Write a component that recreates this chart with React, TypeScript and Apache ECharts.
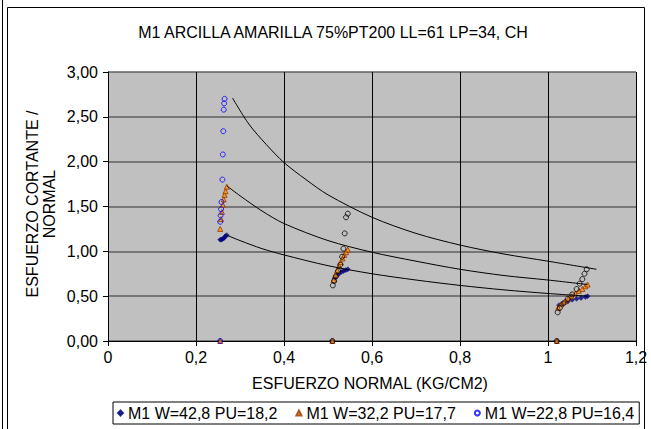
import React, { useEffect, useRef } from "react";
import * as echarts from "echarts";

const TITLE = "M1 ARCILLA AMARILLA 75%PT200 LL=61 LP=34, CH";
const X_NAME = "ESFUERZO NORMAL (KG/CM2)";
const Y_NAME = "ESFUERZO CORTANTE /\nNORMAL";
const SERIES_NAMES = ["M1 W=42,8 PU=18,2", "M1 W=32,2 PU=17,7", "M1 W=22,8 PU=16,4"];

// M1 W=42,8 PU=18,2 (diamonds)
const s1Points: [number, number][] = [
  [0.255, 0], [0.255, 1.13], [0.258, 1.13], [0.261, 1.14], [0.264, 1.15], [0.267, 1.17], [0.27, 1.18],
  [0.51, 0], [0.515, 0.70], [0.52, 0.73], [0.525, 0.75], [0.53, 0.77], [0.535, 0.78], [0.54, 0.79], [0.545, 0.80],
  [1.02, 0], [1.025, 0.40], [1.035, 0.42], [1.045, 0.44], [1.055, 0.46], [1.065, 0.47], [1.075, 0.48], [1.085, 0.49], [1.09, 0.50],
];
// M1 W=32,2 PU=17,7 (triangles)
const s2Points: [number, number][] = [
  [0.255, 0], [0.255, 1.25], [0.257, 1.36], [0.259, 1.44], [0.261, 1.52], [0.263, 1.58], [0.265, 1.63], [0.267, 1.67], [0.27, 1.72],
  [0.51, 0], [0.513, 0.68], [0.517, 0.74], [0.521, 0.79], [0.525, 0.84], [0.529, 0.88], [0.533, 0.92], [0.537, 0.96], [0.541, 0.99], [0.545, 1.02],
  [1.02, 0], [1.023, 0.37], [1.03, 0.41], [1.038, 0.44], [1.046, 0.47], [1.054, 0.50], [1.062, 0.53], [1.07, 0.56], [1.078, 0.58], [1.085, 0.61], [1.09, 0.63],
];
// M1 W=22,8 PU=16,4 (circles) - first load (blue)
const s3PointsLow: [number, number][] = [
  [0.255, 0], [0.255, 1.33], [0.256, 1.40], [0.257, 1.47], [0.258, 1.55], [0.26, 1.80], [0.261, 2.08], [0.262, 2.34], [0.263, 2.58], [0.264, 2.65], [0.265, 2.70],
];
// M1 W=22,8 PU=16,4 (circles) - other loads (dark)
const s3PointsHigh: [number, number][] = [
  [0.51, 0], [0.511, 0.62], [0.514, 0.67], [0.518, 0.72], [0.523, 0.78], [0.528, 0.85], [0.532, 0.94], [0.535, 1.03], [0.538, 1.20], [0.541, 1.38], [0.545, 1.42],
  [1.02, 0], [1.022, 0.32], [1.027, 0.37], [1.035, 0.42], [1.045, 0.47], [1.055, 0.52], [1.065, 0.58], [1.072, 0.64], [1.078, 0.69], [1.083, 0.75], [1.088, 0.80],
];
// envelope curves
const curveTop: [number, number][] = [
  [0.283, 2.71], [0.32, 2.42], [0.36, 2.19], [0.40, 1.99], [0.45, 1.80], [0.50, 1.63], [0.60, 1.38], [0.70, 1.20], [0.80, 1.07], [0.90, 0.97], [1.00, 0.89], [1.11, 0.80],
];
const curveMid: [number, number][] = [
  [0.27, 1.73], [0.30, 1.62], [0.35, 1.45], [0.40, 1.31], [0.50, 1.12], [0.60, 0.99], [0.70, 0.89], [0.80, 0.80], [0.90, 0.73], [1.00, 0.68], [1.09, 0.63],
];
const curveLow: [number, number][] = [
  [0.27, 1.18], [0.30, 1.12], [0.35, 1.03], [0.40, 0.96], [0.50, 0.84], [0.60, 0.75], [0.70, 0.68], [0.80, 0.62], [0.90, 0.57], [1.00, 0.53], [1.09, 0.50],
];

const FONT = "'Liberation Sans', Arial, sans-serif";

export default function App() {
  const ref = useRef<HTMLDivElement>(null);
  useEffect(() => {
    document.body.style.margin = "0";
    if (!ref.current) return;
    const chart = echarts.init(ref.current, null, { renderer: "svg" });
    const lineSeries = (data: [number, number][], name: string) => ({
      type: "line",
      name,
      data,
      smooth: 0.3,
      showSymbol: false,
      symbol: "none",
      lineStyle: { color: "#000", width: 1 },
      z: 3,
    });
    chart.setOption({
      animation: false,
      textStyle: { fontFamily: FONT },
      grid: { left: 108, right: 15, top: 72, bottom: 88, show: true, backgroundColor: "#C0C0C0", borderColor: "#808080", borderWidth: 0 },
      xAxis: {
        type: "value",
        min: 0,
        max: 1.2,
        interval: 0.2,
        axisLine: { show: true, onZero: false, lineStyle: { color: "#000", width: 1 } },
        axisTick: { show: true, inside: false, length: 5, lineStyle: { color: "#000" } },
        axisLabel: {
          fontSize: 16,
          color: "#000",
          fontFamily: FONT,
          margin: 8,
          formatter: (v: number) => String(Number(v.toFixed(1))).replace(".", ","),
        },
        splitLine: { show: true, lineStyle: { color: "#000", width: 1 } },
      },
      yAxis: {
        type: "value",
        min: 0,
        max: 3,
        interval: 0.5,
        axisLine: { show: true, onZero: false, lineStyle: { color: "#000", width: 1 } },
        axisTick: { show: true, inside: false, length: 5, lineStyle: { color: "#000" } },
        axisLabel: {
          fontSize: 16,
          color: "#000",
          fontFamily: FONT,
          margin: 10,
          formatter: (v: number) => v.toFixed(2).replace(".", ","),
        },
        splitLine: { show: true, lineStyle: { color: "#5f5f5f", width: 1.5 } },
      },
      legend: {
        data: SERIES_NAMES,
        left: 113,
        top: 402,
        orient: "horizontal",
        backgroundColor: "#fff",
        borderColor: "#000",
        borderWidth: 1,
        borderRadius: 0,
        padding: [3, 5, 3, 4],
        itemGap: 18,
        itemWidth: 5,
        itemHeight: 5,
        textStyle: { fontSize: 16, color: "#000", fontFamily: FONT },
      },
      graphic: [
        { type: "rect", shape: { x: 7.5, y: 7.5, width: 637, height: 440 }, style: { fill: "none", stroke: "#000", lineWidth: 1 }, silent: true },
        { type: "line", shape: { x1: 2.5, y1: 0, x2: 2.5, y2: 429 }, style: { stroke: "#000", lineWidth: 1 }, silent: true },
        {
          type: "text",
          x: 333,
          y: 32,
          style: { text: TITLE, fontSize: 16, fill: "#000", fontFamily: FONT, textAlign: "center", textVerticalAlign: "middle" },
        },
        {
          type: "text",
          x: 370,
          y: 383,
          style: { text: X_NAME, fontSize: 16, fill: "#000", fontFamily: FONT, textAlign: "center", textVerticalAlign: "middle" },
        },
        {
          type: "text",
          x: 41,
          y: 204,
          rotation: Math.PI / 2,
          style: { text: Y_NAME, fontSize: 16, lineHeight: 17, fill: "#000", fontFamily: FONT, textAlign: "center", textVerticalAlign: "middle" },
        },
      ],
      series: [
        {
          type: "scatter",
          name: SERIES_NAMES[0],
          data: s1Points,
          symbol: "diamond",
          symbolSize: 5,
          itemStyle: { color: "#000080", borderColor: "#000080", borderWidth: 0.5 },
          z: 2,
        },
        {
          type: "scatter",
          name: SERIES_NAMES[1],
          data: s2Points,
          symbol: "triangle",
          symbolSize: 5,
          itemStyle: { color: "#FF9900", borderColor: "#993300", borderWidth: 1 },
          z: 2,
        },
        {
          type: "scatter",
          name: SERIES_NAMES[2],
          data: s3PointsLow,
          symbol: "circle",
          symbolSize: 5,
          itemStyle: { color: "rgba(0,0,0,0)", borderColor: "#0000FF", borderWidth: 1 },
          z: 2,
        },
        {
          type: "scatter",
          name: SERIES_NAMES[2],
          data: s3PointsHigh,
          symbol: "circle",
          symbolSize: 5,
          itemStyle: { color: "rgba(0,0,0,0)", borderColor: "#000", borderWidth: 1 },
          z: 2,
        },
        lineSeries(curveTop, "curva 1"),
        lineSeries(curveMid, "curva 2"),
        lineSeries(curveLow, "curva 3"),
      ],
    });
    return () => chart.dispose();
  }, []);
  return <div ref={ref} style={{ width: 651, height: 429 }} />;
}
